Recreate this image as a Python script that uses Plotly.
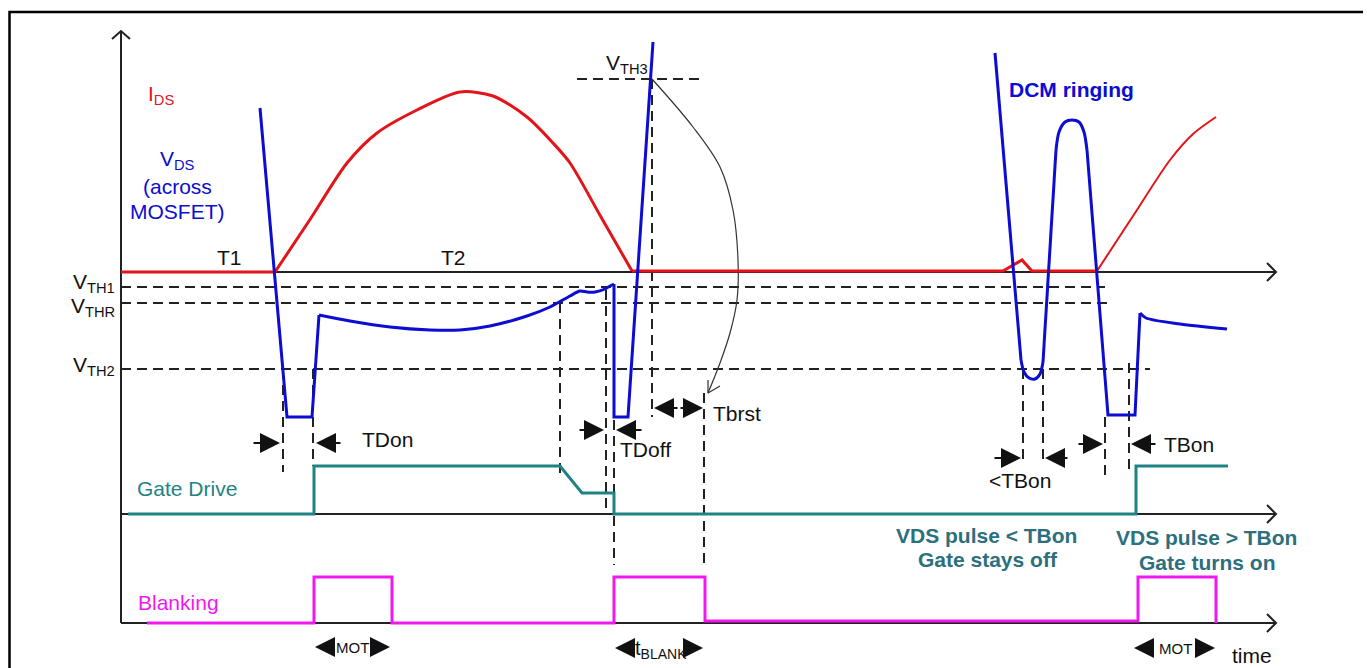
import plotly.graph_objects as go

# ---------------- data (schematic units: t = time position, v = level, screen-like, down = lower) -------------
# axis levels
lvl_zero = 272        # VDS / IDS zero line
lvl_gate0 = 514       # gate drive low
lvl_blank0 = 623      # blanking low
t_axis0, t_axis1 = 121, 1276
lvl_axis_top = 31

# thresholds
th_names = ["V<sub>TH1</sub>", "V<sub>THR</sub>", "V<sub>TH2</sub>"]
th_levels = [287, 303, 369]
th_label_levels = [283, 307, 366]
th_ends = [1105, 1107, 1150]
th3_level = 79
th3_span = [577, 700]

# IDS current
ids_flat_t = [121, 275]
ids_flat_v = [272, 272]
ids_hump_t = [275, 311, 347, 377, 417, 460, 493, 527, 553, 570, 601, 632]
ids_hump_v = [272, 218, 163, 133, 110, 92, 96, 117, 143, 163, 217, 271]
ids_off_t = [632, 1003, 1022, 1032, 1097]
ids_off_v = [271, 271, 260, 271, 271]
ids_rise_t = [1097, 1133, 1170, 1193, 1216]
ids_rise_v = [271, 216, 160, 134, 117]

# VDS voltage
vds_a_t = [260, 287, 312, 319]
vds_a_v = [108, 417, 417, 315]
vds_cond_t = [319, 350, 390, 430, 460, 490, 527, 550, 570, 580, 587, 595, 605, 610, 614]
vds_cond_v = [315, 321, 327, 330, 330, 326, 316, 307, 296, 291, 292, 292, 289, 286, 284]
vds_b_t = [614, 614, 628, 653]
vds_b_v = [284, 417, 417, 42]
vds_r1_t = [995, 1021]
vds_r1_v = [53, 360]
vds_dip_t = [1021, 1024, 1029, 1035, 1040, 1043]
vds_dip_v = [360, 372, 378, 379, 374, 362]
vds_r2_t = [1043, 1056]
vds_r2_v = [362, 150]
vds_top_t = [1056, 1059, 1065, 1072, 1079, 1084, 1087]
vds_top_v = [150, 132, 122, 120, 122, 132, 150]
vds_r3_t = [1087, 1108, 1135, 1140]
vds_r3_v = [150, 415, 415, 313]
vds_dec_t = [1140, 1146, 1180, 1227]
vds_dec_v = [313, 318, 324, 329]

# gate drive
gate_t = [128, 314, 314, 560, 582, 614, 614, 1136, 1136, 1228]
gate_v = [514, 514, 466, 466, 493, 493, 514, 514, 466, 466]

# blanking
blank_t = [147, 314, 314, 392, 392, 614, 614, 705, 705, 1138, 1138, 1216, 1216]
blank_v = [623, 623, 577, 577, 623, 623, 577, 577, 621, 621, 577, 577, 623]

# vertical dashed markers: (t, from, to)
vmarks = [(283, 369, 472), (313, 369, 466), (560, 303, 478), (606, 290, 514),
          (614, 420, 565), (652, 79, 417), (704, 393, 565), (1023, 369, 465),
          (1043, 369, 462), (1105, 417, 475), (1129, 363, 475)]

# timing arrows: (head_t, head_v, tail_t, tail_v)
tarrows = [(280, 443, 252, 443), (316, 443, 342, 443),
           (604, 430, 578, 430), (616, 430, 643, 430),
           (654, 408, 679, 408), (703, 408, 679, 408),
           (1021, 458, 993, 458), (1045, 458, 1069, 458),
           (1103, 444, 1077, 444), (1131, 444, 1157, 444),
           (315, 647, 335, 647), (390, 647, 370, 647),
           (615, 648, 634, 648), (703, 648, 688, 648),
           (1134, 648, 1154, 648), (1215, 648, 1196, 648)]

# Tbrst curved arrow
arc_t = [652, 693, 720, 733, 738, 737, 730, 720, 708]
arc_v = [79, 127, 167, 210, 260, 300, 333, 363, 393]

RED = "#e3141a"
BLUE = "#0c0cd2"
TEAL = "#1f8383"
MAG = "#ef19ef"
TXT_TEAL = "#2c6f7d"
BLK = "#222222"
FONT = "Liberation Sans, Arial, sans-serif"

# page body has an 8px margin: the plot starts at page pixel 8
OFF = 8
W, H = 1371, 668

fig = go.Figure()


def seg(xs, ys, color, width, dash=None, shape="linear", smoothing=1.0):
    line = dict(color=color, width=width, shape=shape)
    if shape == "spline":
        line["smoothing"] = smoothing
    if dash:
        line["dash"] = dash
    fig.add_trace(go.Scatter(x=xs, y=ys, mode="lines", line=line,
                             hoverinfo="skip", showlegend=False))


DASH = "10px,6px"

# frame
seg([9.5, 9.5, 1366, 1366], [680, 12, 12, 680], "#000000", 2.5)

# axes
seg([t_axis0, t_axis0], [lvl_axis_top, lvl_blank0], BLK, 2)
seg([t_axis0 - 9, t_axis0, t_axis0 + 9], [lvl_axis_top + 8, lvl_axis_top, lvl_axis_top + 8], BLK, 2)
for lv in (lvl_zero, lvl_gate0, lvl_blank0):
    seg([t_axis0, t_axis1], [lv, lv], BLK, 2)
    seg([t_axis1 - 9, t_axis1, t_axis1 - 9], [lv - 9, lv, lv + 9], BLK, 2)

# threshold dashed lines
for lv, te in zip(th_levels, th_ends):
    seg([t_axis0, te], [lv, lv], BLK, 2, dash=DASH)
seg(th3_span, [th3_level, th3_level], BLK, 2, dash=DASH)

# vertical dashed markers
for t, a, b in vmarks:
    seg([t, t], [a, b], BLK, 2, dash=DASH)

# curved arrow
seg(arc_t, arc_v, "#333333", 1.2, shape="spline", smoothing=1.0)
seg([708, 708, 720], [380, 393, 386], "#333333", 1.2)

# IDS
seg(ids_flat_t, ids_flat_v, RED, 3)
seg(ids_hump_t, ids_hump_v, RED, 3, shape="spline", smoothing=0.8)
seg(ids_off_t, ids_off_v, RED, 3)
seg(ids_rise_t, ids_rise_v, RED, 2, shape="spline", smoothing=0.8)

# VDS
seg(vds_a_t, vds_a_v, BLUE, 3)
seg(vds_cond_t, vds_cond_v, BLUE, 3, shape="spline", smoothing=0.8)
seg(vds_b_t, vds_b_v, BLUE, 3)
seg(vds_r1_t, vds_r1_v, BLUE, 3)
seg(vds_dip_t, vds_dip_v, BLUE, 3, shape="spline", smoothing=0.8)
seg(vds_r2_t, vds_r2_v, BLUE, 3)
seg(vds_top_t, vds_top_v, BLUE, 3, shape="spline", smoothing=0.8)
seg(vds_r3_t, vds_r3_v, BLUE, 3)
seg(vds_dec_t, vds_dec_v, BLUE, 3, shape="spline", smoothing=0.8)

# gate and blanking
seg(gate_t, gate_v, TEAL, 3)
seg(blank_t, blank_v, MAG, 3)

ann = []
for hx, hy, tx, ty in tarrows:
    ann.append(dict(x=hx, y=hy, ax=tx, ay=ty, xref="x", yref="y", axref="x", ayref="y",
                    text="", showarrow=True, arrowhead=2, arrowsize=2.0, arrowwidth=2,
                    arrowcolor="#111111"))


def txt(s, x, y, color="#111111", size=21, anchor="center", bold=False):
    if bold:
        s = "<b>" + s + "</b>"
    ann.append(dict(x=x, y=y, xref="x", yref="y", text=s, showarrow=False,
                    xanchor=anchor, yanchor="middle",
                    font=dict(family=FONT, size=size, color=color)))


txt("I<sub>DS</sub>", 146, 95, RED, anchor="left")
txt("V<sub>DS</sub>", 177, 160, BLUE)
txt("(across", 177, 186, BLUE)
txt("MOSFET)", 177, 211, BLUE)
txt("T1", 229, 257)
txt("T2", 453, 257)
for name, lv in zip(th_names, th_label_levels):
    txt(name, 117, lv, anchor="right")
txt("V<sub>TH3</sub>", 627, 64)
txt("DCM ringing", 1071, 89, BLUE, bold=True)
txt("TDon", 360, 439, anchor="left")
txt("TDoff", 618, 449, anchor="left")
txt("Tbrst", 711, 413, anchor="left")
txt("&lt;TBon", 1020, 480)
txt("TBon", 1162, 444, anchor="left")
txt("Gate Drive", 187, 488, TEAL)
txt("Blanking", 178, 602, MAG)
txt("VDS pulse &lt; TBon", 986, 535, TXT_TEAL, bold=True)
txt("Gate stays off", 988, 559, TXT_TEAL, bold=True)
txt("VDS pulse &gt; TBon", 1206, 537, TXT_TEAL, bold=True)
txt("Gate turns on", 1207, 562, TXT_TEAL, bold=True)
txt("MOT", 352, 647, size=15)
txt("t<sub>BLANK</sub>", 661, 649, size=20)
txt("MOT", 1175, 648, size=15)
txt("time", 1252, 655)

fig.update_layout(
    width=W - OFF, height=H - OFF,
    margin=dict(l=0, r=0, t=0, b=0),
    paper_bgcolor="white", plot_bgcolor="white",
    xaxis=dict(range=[OFF, W], visible=False, fixedrange=True),
    yaxis=dict(range=[H, OFF], visible=False, fixedrange=True),
    annotations=ann,
    showlegend=False,
)

fig.write_html("out.html")
